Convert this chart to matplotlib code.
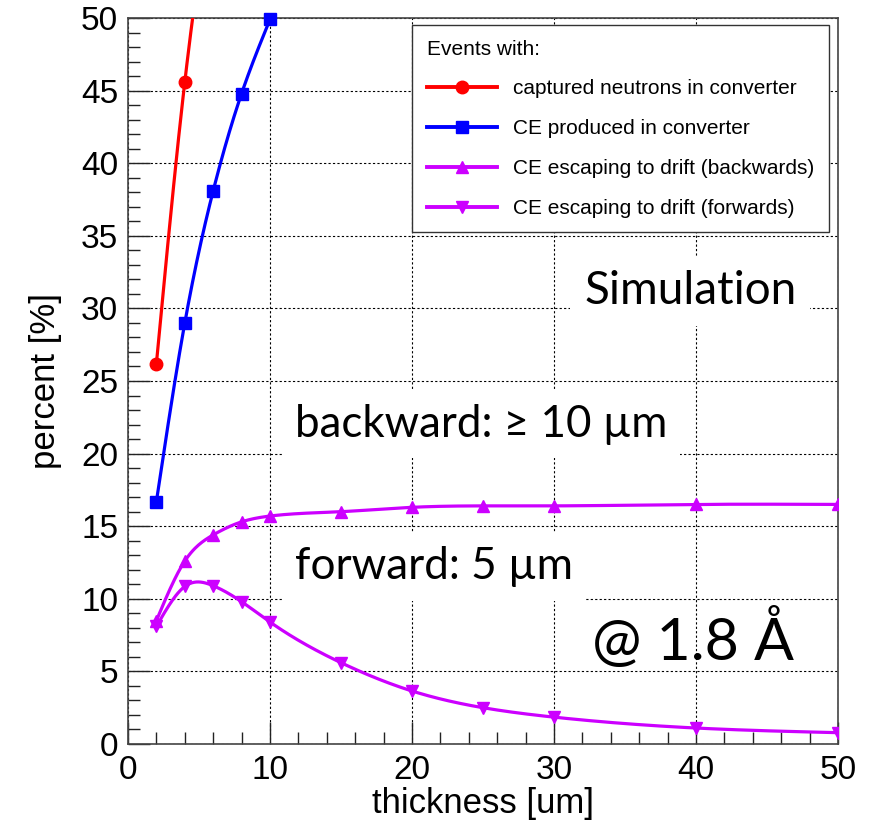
import numpy as np
import matplotlib
matplotlib.use("Agg")
import matplotlib.pyplot as plt
from matplotlib.lines import Line2D
from matplotlib.ticker import MultipleLocator

plt.rcParams['font.family'] = ['Liberation Sans', 'DejaVu Sans']

# ---- data ----
x_captured = [2, 4, 6]
y_captured = [26.2, 45.6, 60.0]

x_produced = [2, 4, 6, 8, 10]
y_produced = [16.7, 29.0, 38.1, 44.8, 49.9]

x_backward = [2, 4, 6, 8, 10, 15, 20, 25, 30, 40, 50]
y_backward = [8.5, 12.6, 14.4, 15.3, 15.7, 16.0, 16.3, 16.4, 16.4, 16.5, 16.5]

x_forward = [2, 4, 6, 8, 10, 15, 20, 25, 30, 40, 50]
y_forward = [8.1, 10.85, 10.9, 9.8, 8.4, 5.6, 3.65, 2.5, 1.85, 1.1, 0.78]

labels = ["captured neutrons in converter",
          "CE produced in converter",
          "CE escaping to drift (backwards)",
          "CE escaping to drift (forwards)"]

RED = "#ff0000"
BLUE = "#0000ff"
MAG = "#cc00ff"


def smooth(x, y, num=600):
    """Natural cubic spline through the points (drawing only)."""
    x = np.asarray(x, float)
    y = np.asarray(y, float)
    n = len(x)
    h = np.diff(x)
    A = np.zeros((n, n))
    b = np.zeros(n)
    A[0, 0] = 1
    A[-1, -1] = 1
    for i in range(1, n - 1):
        A[i, i - 1] = h[i - 1]
        A[i, i] = 2 * (h[i - 1] + h[i])
        A[i, i + 1] = h[i]
        b[i] = 6 * ((y[i + 1] - y[i]) / h[i] - (y[i] - y[i - 1]) / h[i - 1])
    M = np.linalg.solve(A, b)
    xs = np.linspace(x[0], x[-1], num)
    idx = np.clip(np.searchsorted(x, xs) - 1, 0, n - 2)
    x0, x1 = x[idx], x[idx + 1]
    hh = x1 - x0
    t0, t1 = x1 - xs, xs - x0
    ys = (M[idx] * t0 ** 3 / (6 * hh) + M[idx + 1] * t1 ** 3 / (6 * hh)
          + (y[idx] / hh - M[idx] * hh / 6) * t0
          + (y[idx + 1] / hh - M[idx + 1] * hh / 6) * t1)
    return xs, ys


fig = plt.figure(figsize=(8.84, 8.22), dpi=100)
ax = fig.add_axes([128 / 884, 1 - 744 / 822, 710 / 884, 726 / 822])

series = [
    (x_captured, y_captured, RED, 'o', 9),
    (x_produced, y_produced, BLUE, 's', 8),
    (x_backward, y_backward, MAG, '^', 8),
    (x_forward, y_forward, MAG, 'v', 8),
]
handles = []
for xs, ys, col, mk, ms in series:
    sx, sy = smooth(xs, ys)
    ax.plot(sx, sy, color=col, lw=2.3, zorder=3)
    ax.plot(xs, ys, linestyle='none', marker=mk, ms=ms, color=col,
            zorder=4, clip_on=False if col == BLUE else True)
    handles.append(Line2D([0], [0], color=col, lw=2.8, marker=mk, ms=ms))

ax.set_xlim(0, 50)
ax.set_ylim(0, 50)
ax.xaxis.set_major_locator(MultipleLocator(10))
ax.xaxis.set_minor_locator(MultipleLocator(2))
ax.yaxis.set_major_locator(MultipleLocator(5))
ax.yaxis.set_minor_locator(MultipleLocator(1))
ax.tick_params(which='both', direction='in', color='#222222', width=1.0,
               labelsize=24, top=False, right=False)
ax.tick_params(which='major', length=16)
ax.tick_params(which='minor', length=8.5)
ax.tick_params(axis='y', pad=7)
ax.tick_params(axis='x', pad=8)
for s in ax.spines.values():
    s.set_color('#444444')
    s.set_linewidth(1.2)

ax.set_axisbelow(True)
ax.grid(True, which='major', color='black', lw=0.8, linestyle=(0, (2, 2)))

ax.set_xlabel("thickness [um]", fontsize=25)
ax.set_ylabel("percent [%]", fontsize=25)
ax.xaxis.label.set_va('center')
ax.xaxis.set_label_coords(0.5, (744 - 803) / 726)
ax.yaxis.label.set_va('center')
ax.yaxis.set_label_coords((46 - 128) / 710, 0.5)

ann_font = ['Lato', 'DejaVu Sans']
box = dict(boxstyle='square,pad=0.3', facecolor='white', edgecolor='none')
ax.text(39.6, 31.2, "Simulation", fontsize=33, family=ann_font,
        ha='center', va='center', bbox=box, zorder=2)
ax.text(11.75, 22.0, "backward: \u2265 10 \u00b5m", fontsize=31.6, family=ann_font,
        ha='left', va='center', bbox=box, zorder=2)
ax.text(11.75, 12.2, "forward: 5 \u00b5m", fontsize=31.8, family=ann_font,
        ha='left', va='center', bbox=box, zorder=2)
ax.text(32.7, 7.2, "@ 1.8 \u00c5", fontsize=42.5, family=ann_font,
        ha='left', va='center', zorder=2)

leg = ax.legend(handles, labels, title="Events with:", alignment='left',
                loc='upper left', bbox_to_anchor=((412 - 128) / 710, (744 - 25) / 726),
                borderaxespad=0, fontsize=15, title_fontsize=15,
                frameon=True, fancybox=False, framealpha=1, edgecolor='#333333',
                handlelength=3.4, handletextpad=0.75, labelspacing=1.0,
                borderpad=0.7, numpoints=1)
leg.get_frame().set_linewidth(1.0)
leg.set_zorder(6)

fig.savefig("out.png", dpi=100)
